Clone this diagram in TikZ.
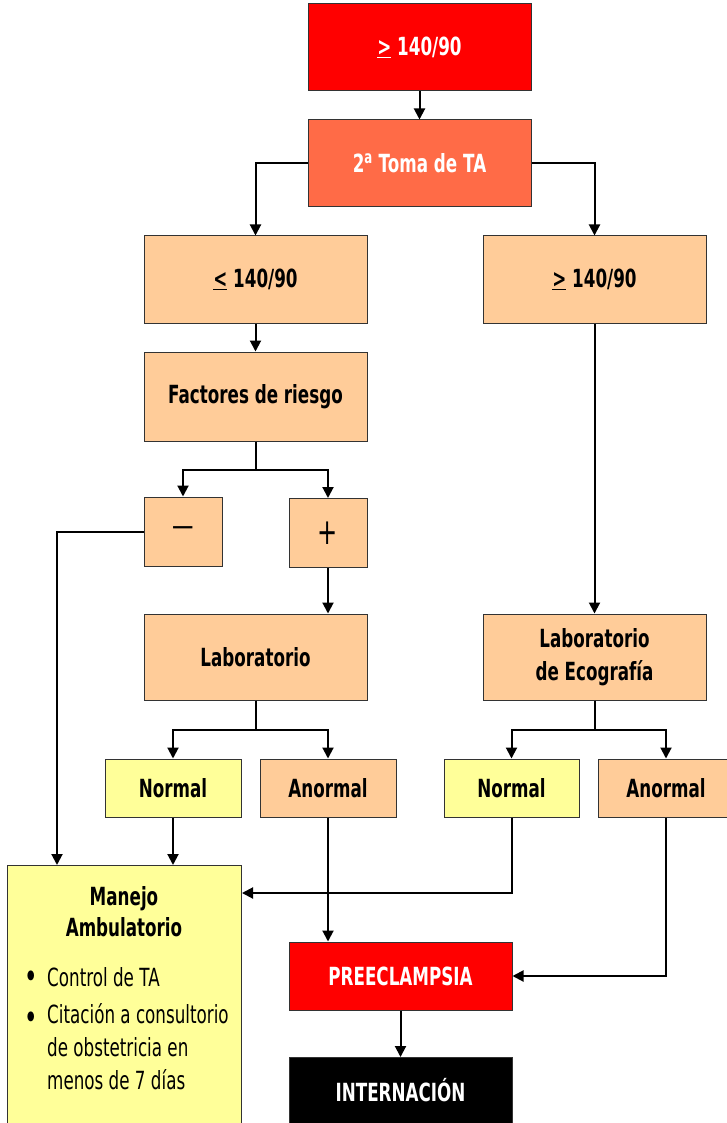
\documentclass[tikz,border=0pt]{standalone}
\usepackage{fontspec}
\setmainfont{DejaVu Sans}[FakeStretch=0.67]
\usetikzlibrary{arrows.meta,calc}
\definecolor{cred}{HTML}{FF0000}
\definecolor{ccoral}{HTML}{FF6B47}
\definecolor{cpeach}{HTML}{FFCC99}
\definecolor{cyel}{HTML}{FFFF99}
\definecolor{cborder}{HTML}{333333}
\tikzset{
  box/.style={draw=cborder, line width=1pt, rectangle, inner sep=0pt, align=center,
    font=\fontsize{25}{33}\selectfont\bfseries},
  bigbox/.style={box, minimum width=223pt, minimum height=87pt},
  smallbox/.style={box, minimum width=136pt, minimum height=58pt},
  sqbox/.style={box, fill=cpeach, minimum width=78pt, minimum height=69pt,
    font=\fontsize{32}{32}\selectfont},
  conn/.style={line width=2pt, -{Triangle[length=11pt,width=11pt]}},
  bodytext/.style={inner sep=0pt, font=\fontsize{25}{33}\selectfont, align=left},
}
\begin{document}
\begin{tikzpicture}[x=1pt,y=-1pt]
\useasboundingbox (0,0) rectangle (727,1123);
% boxes
\node[bigbox, fill=cred, text=white] (top) at (419.5,47.5) {\underline{>} 140/90};
\node[bigbox, fill=ccoral, text=white] (toma) at (419.5,163.5) {2\textsuperscript{a} Toma de TA};
\node[bigbox, fill=cpeach] (le) at (255.5,279.5) {\underline{<} 140/90};
\node[bigbox, fill=cpeach] (ge) at (594.5,279.5) {\underline{>} 140/90};
\node[bigbox, fill=cpeach, minimum height=89pt] (fr) at (255.5,396.5) {Factores de riesgo};
\node[sqbox] (minus) at (183,531.5) {—};
\node[sqbox, font=\fontsize{36}{36}\selectfont] (plus) at (328,533) {+};
\node[bigbox, fill=cpeach, minimum height=86pt] (lab) at (255.5,657) {Laboratorio};
\node[bigbox, fill=cpeach, minimum height=86pt] (labeco) at (594.5,657) {Laboratorio\\de Ecografía};
\node[smallbox, fill=cyel] (n1) at (173,788) {Normal};
\node[smallbox, fill=cpeach] (a1) at (328,788) {Anormal};
\node[smallbox, fill=cyel, minimum width=135pt] (n2) at (511.5,788) {Normal};
\node[smallbox, fill=cpeach] (a2) at (666,788) {Anormal};
\node[box, fill=cyel, minimum width=234pt, minimum height=290pt, anchor=north west] (man) at (7,865) {};
\node[box, fill=cred, text=white, minimum width=223pt, minimum height=68pt] (pre) at (400.5,976) {PREECLAMPSIA};
\node[box, fill=black, text=white, minimum width=223pt, minimum height=90pt, anchor=north] (int) at (400.5,1057) {};
% texts inside open boxes
\node[bodytext, font=\fontsize{25}{31}\selectfont\bfseries, align=center] (mantitle) at (124,912) {Manejo\\Ambulatorio};
\node[bodytext, font=\fontsize{34}{34}\selectfont] (b1) at (31,980) {•};
\node[bodytext, anchor=west] (t1) at (47,977) {Control de TA};
\node[bodytext, font=\fontsize{34}{34}\selectfont] (b2) at (31,1021) {•};
\node[bodytext, anchor=north west] (t2) at (47,1003) {Citación a consultorio\\de obstetricia en\\menos de 7 días};
\node[bodytext, text=white, font=\fontsize{25}{33}\selectfont\bfseries] (inttext) at (400.5,1090) {INTERNACIÓN};
% connectors
\draw[conn] (top.south) -- (toma.north);
\draw[conn] (toma.west) -| (le.north);
\draw[conn] (toma.east) -| (ge.north);
\draw[conn] (le.south) -- (fr.north);
\draw[conn] (fr.south) -- ++(0,28) -| (minus.north);
\draw[conn] (fr.south) -- ++(0,28) -| (plus.north);
\coordinate (manin) at ($(man.north west)+(50,0)$);
\draw[conn] (minus.west) -| (manin);
\draw[conn] (plus.south) -- (plus.south |- lab.north);
\draw[conn] (ge.south) -- (labeco.north);
\draw[conn] (lab.south) -- ++(0,29) -| (n1.north);
\draw[conn] (lab.south) -- ++(0,29) -| (a1.north);
\draw[conn] (labeco.south) -- ++(0,29) -| (n2.north);
\draw[conn] (labeco.south) -- ++(0,29) -| (a2.north);
\draw[conn] (n1.south) -- (n1.south |- man.north);
\draw[conn] (a1.south) -- (a1.south |- pre.north);
\coordinate (manright) at ($(man.north east)+(0,28)$);
\draw[conn] (n2.south) |- (manright);
\draw[conn] (a2.south) |- (pre.east);
\draw[conn] (pre.south) -- (int.north);
\end{tikzpicture}
\end{document}
